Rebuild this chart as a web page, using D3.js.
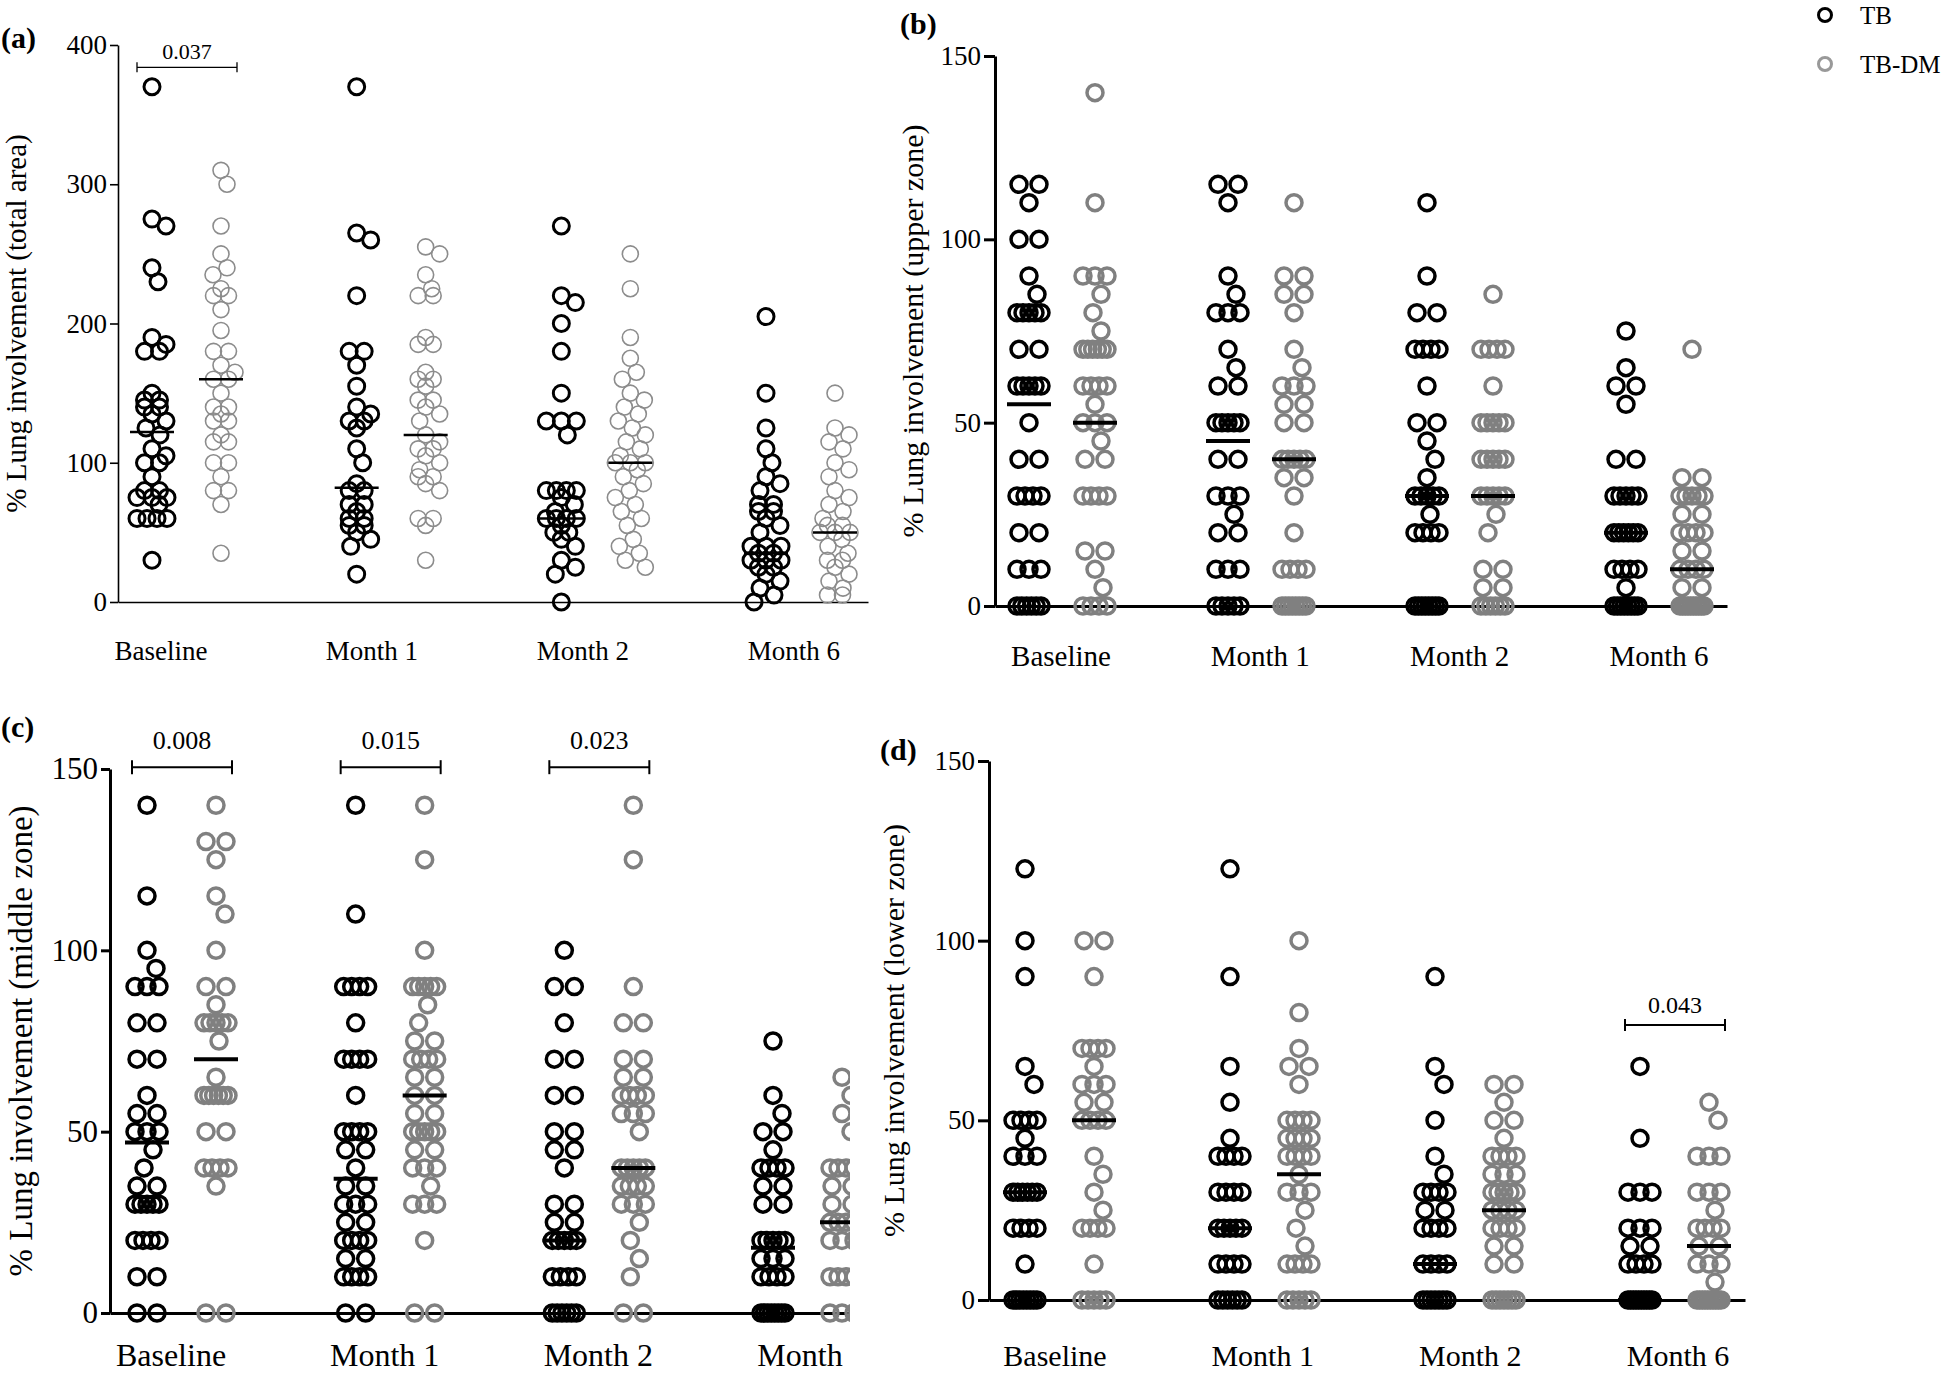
<!DOCTYPE html>
<html>
<head>
<meta charset="utf-8">
<script src="https://cdn.jsdelivr.net/npm/d3@7"></script>
<style>
  body { margin: 0; background: #fff; }
  text { font-family: "Liberation Serif", "Times New Roman", serif; fill: #000; }
</style>
</head>
<body>
<script>
// Categories, groups and ticks
var categories = ["Baseline", "Month 1", "Month 2", "Month 6"];
var groups = ["TB", "TB-DM"];
var totalTicks = [0, 100, 200, 300, 400];
var zoneTicks = [0, 50, 100, 150];

// (a) total area - one list per time point
var totalTB = [
  [370, 275, 270, 240, 230, 190, 185, 180, 180, 150, 145, 145, 140, 140, 135, 130, 125, 120, 110, 105, 100, 100, 90, 80, 80, 75, 75, 75, 70, 60, 60, 60, 60, 30],
  [370, 265, 260, 220, 180, 180, 170, 155, 140, 135, 130, 130, 125, 110, 100, 85, 80, 80, 70, 70, 65, 60, 60, 55, 55, 50, 45, 40, 20],
  [270, 220, 215, 200, 180, 150, 130, 130, 130, 120, 80, 80, 80, 80, 75, 70, 65, 60, 60, 60, 60, 55, 50, 50, 45, 40, 30, 25, 20, 0],
  [205, 150, 125, 110, 100, 90, 85, 80, 70, 70, 65, 65, 60, 55, 50, 40, 40, 40, 35, 35, 30, 30, 30, 25, 25, 20, 15, 10, 5, 0]
];
var totalDM = [
  [310, 300, 270, 250, 240, 235, 225, 220, 220, 210, 195, 180, 180, 170, 165, 160, 160, 150, 140, 140, 135, 130, 130, 120, 115, 115, 100, 100, 90, 80, 80, 70, 35],
  [255, 250, 235, 225, 220, 220, 190, 185, 185, 165, 160, 160, 155, 145, 145, 140, 135, 130, 120, 115, 110, 110, 105, 100, 95, 90, 90, 85, 80, 60, 60, 55, 30],
  [250, 225, 190, 175, 165, 160, 150, 145, 140, 135, 130, 125, 120, 115, 110, 105, 100, 100, 100, 95, 90, 85, 80, 75, 70, 65, 60, 55, 45, 40, 35, 30, 25],
  [150, 125, 120, 115, 110, 100, 95, 90, 80, 75, 70, 65, 60, 55, 55, 50, 50, 50, 45, 40, 35, 30, 30, 25, 20, 15, 10, 5, 5]
];
var totalMedTB = [122, 82, 60, 35];
var totalMedDM = [160, 120, 100, 50];

// (b) upper zone
var upperTB = [
  [115, 115, 110, 100, 100, 90, 85, 80, 80, 80, 80, 80, 70, 70, 60, 60, 60, 60, 60, 50, 40, 40, 30, 30, 30, 30, 20, 20, 10, 10, 10, 0, 0, 0, 0, 0, 0],
  [115, 115, 110, 90, 85, 80, 80, 80, 70, 65, 60, 60, 50, 50, 50, 50, 50, 40, 40, 30, 30, 30, 25, 20, 20, 10, 10, 10, 0, 0, 0, 0, 0],
  [110, 90, 80, 80, 70, 70, 70, 70, 60, 50, 50, 45, 40, 35, 30, 30, 30, 30, 30, 25, 20, 20, 20, 20, 0, 0, 0, 0, 0, 0, 0, 0],
  [75, 65, 60, 60, 55, 40, 40, 30, 30, 30, 30, 30, 20, 20, 20, 20, 20, 20, 10, 10, 10, 10, 5, 0, 0, 0, 0, 0, 0, 0, 0]
];
var upperDM = [
  [140, 110, 90, 90, 90, 85, 80, 75, 70, 70, 70, 70, 70, 70, 60, 60, 60, 60, 55, 50, 50, 50, 45, 40, 40, 30, 30, 30, 30, 15, 15, 10, 5, 0, 0, 0, 0],
  [110, 90, 90, 85, 85, 80, 70, 65, 60, 60, 60, 55, 55, 50, 50, 40, 40, 40, 40, 40, 35, 35, 30, 20, 10, 10, 10, 10, 0, 0, 0, 0, 0, 0, 0, 0],
  [85, 70, 70, 70, 70, 60, 50, 50, 50, 50, 50, 40, 40, 40, 40, 40, 30, 30, 30, 30, 30, 25, 20, 10, 10, 5, 5, 0, 0, 0, 0, 0, 0],
  [70, 35, 35, 30, 30, 30, 30, 30, 25, 25, 20, 20, 20, 20, 15, 15, 10, 10, 10, 10, 5, 5, 0, 0, 0, 0, 0, 0, 0, 0, 0, 0]
];
var upperMedTB = [55, 45, 30, 20];
var upperMedDM = [50, 40, 30, 10];

// (c) middle zone
var middleTB = [
  [140, 115, 100, 95, 90, 90, 90, 80, 80, 70, 70, 60, 55, 55, 50, 50, 50, 45, 40, 35, 35, 30, 30, 30, 30, 30, 20, 20, 20, 20, 10, 10, 0, 0],
  [140, 110, 90, 90, 90, 90, 80, 70, 70, 70, 70, 60, 50, 50, 50, 50, 45, 45, 40, 35, 35, 30, 30, 30, 25, 25, 20, 20, 20, 20, 15, 15, 10, 10, 10, 10, 0, 0],
  [100, 90, 90, 80, 70, 70, 60, 60, 50, 50, 45, 45, 40, 30, 30, 25, 25, 20, 20, 20, 20, 20, 10, 10, 10, 10, 0, 0, 0, 0, 0, 0],
  [75, 60, 55, 50, 50, 45, 40, 40, 40, 40, 35, 35, 30, 30, 20, 20, 20, 20, 20, 15, 15, 15, 10, 10, 10, 10, 0, 0, 0, 0, 0, 0, 0, 0]
];
var middleDM = [
  [140, 130, 130, 125, 115, 110, 100, 90, 90, 85, 80, 80, 80, 80, 80, 75, 65, 60, 60, 60, 60, 60, 60, 50, 50, 40, 40, 40, 40, 35, 0, 0],
  [140, 125, 100, 90, 90, 90, 90, 90, 85, 80, 75, 75, 70, 70, 70, 70, 65, 65, 60, 60, 55, 55, 50, 50, 50, 50, 50, 45, 45, 40, 40, 40, 35, 30, 30, 30, 20, 0, 0],
  [140, 125, 90, 80, 80, 70, 70, 65, 65, 60, 60, 60, 60, 55, 55, 55, 50, 40, 40, 40, 40, 40, 35, 35, 35, 35, 30, 30, 30, 25, 20, 15, 10, 0, 0],
  [65, 60, 55, 50, 40, 40, 40, 40, 35, 35, 30, 30, 25, 25, 25, 25, 20, 20, 20, 10, 10, 10, 10, 0, 0, 0]
];
var middleMedTB = [47, 37, 20, 18];
var middleMedDM = [70, 60, 40, 25];

// (d) lower zone
var lowerTB = [
  [120, 100, 90, 65, 60, 50, 50, 50, 50, 45, 40, 40, 40, 30, 30, 30, 30, 30, 30, 20, 20, 20, 20, 10, 0, 0, 0, 0, 0, 0, 0, 0],
  [120, 90, 65, 55, 45, 40, 40, 40, 40, 30, 30, 30, 30, 20, 20, 20, 20, 20, 10, 10, 10, 10, 0, 0, 0, 0, 0, 0],
  [90, 65, 60, 50, 40, 35, 30, 30, 30, 30, 25, 25, 20, 20, 20, 20, 10, 10, 10, 10, 0, 0, 0, 0, 0, 0, 0],
  [65, 45, 30, 30, 30, 20, 20, 20, 15, 15, 10, 10, 10, 10, 0, 0, 0, 0, 0, 0, 0, 0, 0, 0]
];
var lowerDM = [
  [100, 100, 90, 70, 70, 70, 70, 65, 60, 60, 60, 55, 55, 50, 50, 50, 50, 40, 35, 30, 25, 20, 20, 20, 20, 10, 0, 0, 0, 0, 0],
  [100, 80, 70, 65, 65, 60, 50, 50, 50, 50, 45, 45, 45, 45, 40, 40, 40, 40, 35, 30, 30, 30, 25, 20, 15, 10, 10, 10, 10, 0, 0, 0, 0, 0],
  [60, 60, 55, 50, 50, 45, 40, 40, 40, 40, 35, 35, 35, 30, 30, 30, 30, 30, 25, 25, 25, 25, 20, 20, 20, 20, 15, 15, 10, 10, 0, 0, 0, 0, 0, 0, 0],
  [55, 50, 40, 40, 40, 30, 30, 30, 25, 20, 20, 20, 20, 15, 15, 10, 10, 10, 5, 0, 0, 0, 0, 0, 0, 0, 0, 0, 0]
];
var lowerMedTB = [30, 20, 10, 0];
var lowerMedDM = [50, 35, 25, 15];

// p-value brackets
var pPanels = ["a", "c", "c", "c", "d"];
var pCats = ["Baseline", "Baseline", "Month 1", "Month 2", "Month 6"];
var pValues = ["0.037", "0.008", "0.015", "0.023", "0.043"];
var pLevels = [384, 150.5, 150.5, 150.5, 76.5];

// Panel layout (pixels)
var panels = [
  { key: "a", tb: totalTB, dm: totalDM, medTB: totalMedTB, medDM: totalMedDM, ticks: totalTicks, yMax: 400,
    title: "% Lung involvement (total area)",
    axisX: 118, yTop: 45, yBot: 602, xEnd: 868, col: [152, 766], gap: 69, lab: [161, 794], labY: 660,
    labFont: 27, tickFont: 27, tickLen: 8, titleX: 16, titleFont: 29, tagX: 1, tagY: 48,
    axisW: 1.6, r: 8, tbW: 3, dmW: 1.6, dmColor: "#8c8c8c", medW: 2.5, D: 15, half: 15, pOff: 8, pFont: 22, tick: 5 },
  { key: "b", tb: upperTB, dm: upperDM, medTB: upperMedTB, medDM: upperMedDM, ticks: zoneTicks, yMax: 150,
    title: "% Lung involvement (upper zone)",
    axisX: 995, yTop: 56, yBot: 606, xEnd: 1727, col: [1029, 1626], gap: 66, lab: [1061, 1659], labY: 666,
    labFont: 29, tickFont: 27, tickLen: 11, titleX: 912, titleFont: 30, tagX: 900, tagY: 34,
    axisW: 3, r: 8, tbW: 3.5, dmW: 3.5, dmColor: "#808080", medW: 4, D: 20, half: 12, pOff: 12, pFont: 24, tick: 6 },
  { key: "c", tb: middleTB, dm: middleDM, medTB: middleMedTB, medDM: middleMedDM, ticks: zoneTicks, yMax: 150,
    title: "% Lung involvement (middle zone)",
    axisX: 110, yTop: 769, yBot: 1313, xEnd: 900, col: [147, 773], gap: 69, lab: [171, 812], labY: 1366,
    labFont: 32, tickFont: 31, tickLen: 9, titleX: 21, titleFont: 33, tagX: 1, tagY: 737, clip: 850,
    axisW: 3, r: 8, tbW: 3.5, dmW: 3.5, dmColor: "#808080", medW: 4, D: 20, half: 12, pOff: 18, pFont: 26, tick: 7 },
  { key: "d", tb: lowerTB, dm: lowerDM, medTB: lowerMedTB, medDM: lowerMedDM, ticks: zoneTicks, yMax: 150,
    title: "% Lung involvement (lower zone)",
    axisX: 989, yTop: 761, yBot: 1300, xEnd: 1745, col: [1025, 1640], gap: 69, lab: [1055, 1678], labY: 1366,
    labFont: 30, tickFont: 27, tickLen: 11, titleX: 893, titleFont: 30, tagX: 880, tagY: 760,
    axisW: 3, r: 8, tbW: 3.5, dmW: 3.5, dmColor: "#808080", medW: 4, D: 20, half: 12, pOff: 12, pFont: 24, tick: 6 }
];

var svg = d3.select("body").append("svg")
  .attr("width", 1946)
  .attr("height", 1374);
svg.append("rect").attr("width", 1946).attr("height", 1374).attr("fill", "#fff");

var defs = svg.append("defs");

// Lay the points of one column out like a dot plot: equal values side by side,
// single values pushed sideways until they stop overlapping
function swarm(values, y, D, half) {
  var sorted = values.slice().sort(function (a, b) { return b - a; });
  var rows = d3.groups(sorted, function (v) { return v; });
  var placed = [];
  rows.forEach(function (row) {
    var v = row[0], n = row[1].length, py = y(v);
    if (n > 1) {
      var s = Math.min(D, 2 * half / (n - 1));
      for (var i = 0; i < n; i++) placed.push({ v: v, dx: (i - (n - 1) / 2) * s, y: py });
      return;
    }
    var best = 0, bestD = -1, found = false;
    for (var k = 0; k <= half && !found; k++) {
      var cands = k ? [k, -k] : [0];
      var md = cands.map(function (dx) {
        var m = d3.min(placed, function (p) { return Math.hypot(p.dx - dx, p.y - py); });
        return m === undefined ? Infinity : m;
      });
      var j = md.length > 1 && md[1] > md[0] ? 1 : 0;
      if (md[j] >= D) { best = cands[j]; found = true; }
      else if (md[j] > bestD) { bestD = md[j]; best = cands[j]; }
    }
    placed.push({ v: v, dx: best, y: py });
  });
  return placed;
}

panels.forEach(function (P) {
  var g = svg.append("g").attr("class", "panel-" + P.key);
  if (P.clip) {
    defs.append("clipPath").attr("id", "clip-" + P.key)
      .append("rect").attr("x", 0).attr("y", 680).attr("width", P.clip).attr("height", 700);
    g.attr("clip-path", "url(#clip-" + P.key + ")");
  }

  var y = d3.scaleLinear().domain([0, P.yMax]).range([P.yBot, P.yTop]);
  var xCol = d3.scalePoint().domain(categories).range(P.col);
  var xLab = d3.scalePoint().domain(categories).range(P.lab);
  var xLine = d3.scaleLinear().range([P.axisX, P.xEnd]);

  // Y axis
  var yAxis = d3.axisLeft(y).tickValues(P.ticks).tickSize(P.tickLen).tickSizeOuter(0).tickPadding(3);
  var ya = g.append("g").attr("transform", "translate(" + P.axisX + ",0)").call(yAxis);
  ya.select(".domain").attr("stroke", "#000").attr("stroke-width", P.axisW);
  ya.selectAll(".tick line").attr("stroke", "#000").attr("stroke-width", P.axisW);
  ya.selectAll(".tick text").style("font-size", P.tickFont + "px")
    .style("font-family", "Liberation Serif").attr("fill", "#000");

  // X axis line, no ticks
  var xAxis = d3.axisBottom(xLine).tickValues([]).tickSizeOuter(0);
  var xa = g.append("g").attr("transform", "translate(0," + P.yBot + ")").call(xAxis);
  xa.select(".domain").attr("stroke", "#000").attr("stroke-width", P.axisW);

  // Category labels
  g.selectAll(".cat").data(categories).enter().append("text")
    .attr("x", function (d) { return xLab(d); })
    .attr("y", P.labY)
    .attr("text-anchor", "middle")
    .style("font-size", P.labFont + "px")
    .text(function (d) { return d; });

  // Y title
  g.append("text")
    .attr("transform", "translate(" + P.titleX + "," + ((P.yTop + P.yBot) / 2) + ") rotate(-90)")
    .attr("text-anchor", "middle")
    .attr("dominant-baseline", "central")
    .style("font-size", P.titleFont + "px")
    .text(P.title);

  // Panel tag
  g.append("text").attr("x", P.tagX).attr("y", P.tagY)
    .style("font-size", "30px").style("font-weight", "bold")
    .text("(" + P.key + ")");

  // Points
  categories.forEach(function (c, i) {
    [P.tb[i], P.dm[i]].forEach(function (vals, gi) {
      var cx = xCol(c) + gi * P.gap;
      var pts = swarm(vals, y, P.D, P.half);
      g.append("g").selectAll("circle").data(pts).enter().append("circle")
        .attr("cx", function (d) { return cx + d.dx; })
        .attr("cy", function (d) { return d.y; })
        .attr("r", P.r)
        .attr("fill", "none")
        .attr("stroke", gi ? P.dmColor : "#000")
        .attr("stroke-width", gi ? P.dmW : P.tbW);
    });
  });

  // Median lines
  categories.forEach(function (c, i) {
    [P.medTB[i], P.medDM[i]].forEach(function (m, gi) {
      var cx = xCol(c) + gi * P.gap;
      g.append("line")
        .attr("x1", cx - 22).attr("x2", cx + 22)
        .attr("y1", y(m)).attr("y2", y(m))
        .attr("stroke", "#000").attr("stroke-width", P.medW);
    });
  });

  // p-value brackets
  pPanels.forEach(function (pk, k) {
    if (pk !== P.key) return;
    var x1 = xCol(pCats[k]) - 15, x2 = xCol(pCats[k]) + P.gap + 16, by = y(pLevels[k]);
    var lw = P.key === "a" ? 1.3 : 2;
    g.append("line").attr("x1", x1).attr("x2", x2).attr("y1", by).attr("y2", by)
      .attr("stroke", "#000").attr("stroke-width", lw);
    [x1, x2].forEach(function (xx) {
      g.append("line").attr("x1", xx).attr("x2", xx).attr("y1", by - P.tick).attr("y2", by + P.tick)
        .attr("stroke", "#000").attr("stroke-width", lw);
    });
    g.append("text").attr("x", (x1 + x2) / 2).attr("y", by - P.pOff)
      .attr("text-anchor", "middle").style("font-size", P.pFont + "px")
      .text(pValues[k]);
  });
});

// Legend
var legend = svg.append("g").attr("class", "legend");
var legendColors = ["#000", "#999"];
legend.selectAll("circle").data(groups).enter().append("circle")
  .attr("cx", 1825)
  .attr("cy", function (d, i) { return 15 + i * 49; })
  .attr("r", 6.5)
  .attr("fill", "none")
  .attr("stroke", function (d, i) { return legendColors[i]; })
  .attr("stroke-width", 3);
legend.selectAll("text").data(groups).enter().append("text")
  .attr("x", 1860)
  .attr("y", function (d, i) { return 24 + i * 49; })
  .style("font-size", "25px")
  .attr("fill", "#222")
  .text(function (d) { return d; });
</script>
</body>
</html>
